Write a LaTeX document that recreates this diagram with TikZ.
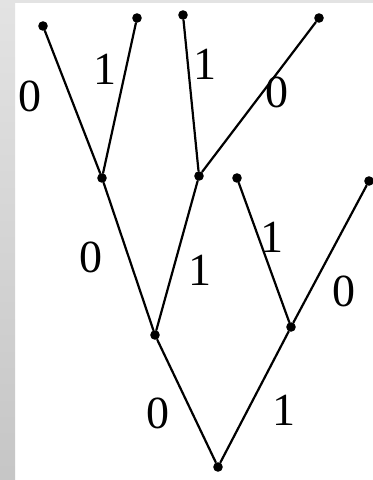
\documentclass[tikz,border=0pt]{standalone}
\usepackage{fontspec}
\setmainfont{Liberation Serif}
\begin{document}
\begin{tikzpicture}[x=0.5pt,y=-0.5pt, line cap=round, line join=round,
  dot/.style={circle,fill=black,inner sep=0pt,minimum size=4.8pt},
  branch/.style={line width=1.1pt},
  bit/.style={font=\fontsize{23}{23}\selectfont,inner sep=0pt}]
  % frame
  \useasboundingbox (0,0) rectangle (373,480);
  \fill[white] (0,0) rectangle (373,480);
  \fill[gray!22] (0,0) rectangle (373,3);
  \shade[top color=gray!22,bottom color=gray!45] (0,0) rectangle (15,480);
  % vertices
  \node[dot] (root) at (218,467) {};
  \node[dot] (a) at (155,335) {};
  \node[dot] (b) at (291,327) {};
  \node[dot] (c) at (102,178) {};
  \node[dot] (d) at (199,176) {};
  \node[dot] (l1) at (43,26) {};
  \node[dot] (l2) at (137,18) {};
  \node[dot] (l3) at (183,15) {};
  \node[dot] (l4) at (319,18) {};
  \node[dot] (l5) at (237,178) {};
  \node[dot] (l6) at (369,181) {};
  % branches
  \draw[branch] (root) -- (a);
  \draw[branch] (root) -- (b);
  \draw[branch] (a) -- (c);
  \draw[branch] (a) -- (d);
  \draw[branch] (c) -- (l1);
  \draw[branch] (c) -- (l2);
  \draw[branch] (d) -- (l3);
  \draw[branch] (d) -- (l4);
  \draw[branch] (b) -- (l5);
  \draw[branch] (b) -- (l6);
  % bits
  \node[bit] (t1) at (30,96) {0};
  \node[bit] (t2) at (105,69) {1};
  \node[bit] (t3) at (205,64) {1};
  \node[bit] (t4) at (277,92) {0};
  \node[bit] (t5) at (91,257) {0};
  \node[bit] (t6) at (200,270) {1};
  \node[bit] (t7) at (272,237) {1};
  \node[bit] (t8) at (344,291) {0};
  \node[bit] (t9) at (158,413) {0};
  \node[bit] (t10) at (284,410) {1};
\end{tikzpicture}
\end{document}
